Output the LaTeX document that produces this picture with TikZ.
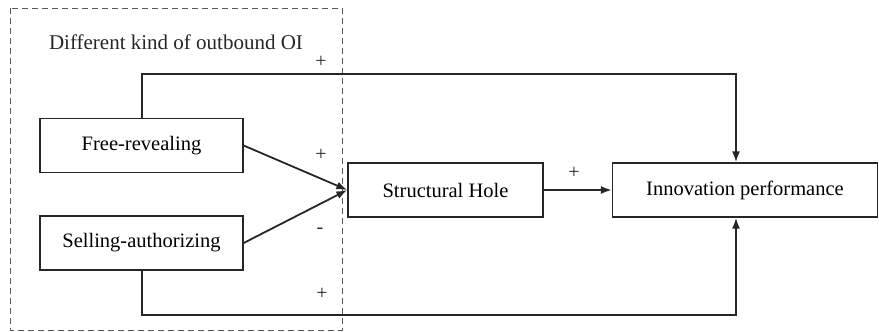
\documentclass[tikz,border=0pt]{standalone}
\usepackage{fontspec}
\setmainfont{Liberation Serif}
\newfontfamily\diagfont{Liberation Serif}
\usetikzlibrary{arrows.meta}
\begin{document}
\begin{tikzpicture}[x=1pt,y=-1pt,
  box/.style={draw=black!85,line width=1.3pt,minimum height=54pt,inner sep=0pt,font=\diagfont\fontsize{20.5}{24}\selectfont},
  conn/.style={line width=1.8pt,draw=black!85,-{Latex[length=11pt,width=8pt]}},
  sign/.style={font=\diagfont\fontsize{20}{24}\selectfont,inner sep=0pt,text=black!85}]
\useasboundingbox (0,0) rectangle (879,332);
\draw[dash pattern=on 6pt off 4pt,black!65,line width=1pt] (10,8) rectangle (342,330);
\node[font=\diagfont\fontsize{21}{24}\selectfont,anchor=center,text=black!85] (title) at (176,42) {Different kind of outbound OI};
\node[box,minimum width=203pt] (fr) at (141.5,145.5) {Free-revealing};
\node[box,minimum width=203pt] (sa) at (141.5,243) {Selling-authorizing};
\node[box,minimum width=195pt] (sh) at (445.5,190) {Structural Hole};
\node[box,minimum width=265pt] (ip) at (745,190) {Innovation performance};
\coordinate (tl) at (142,74);
\coordinate (tr) at (736,74);
\coordinate (bl) at (142,315);
\coordinate (br) at (736,315);
\draw[conn] (fr.north -| tl) -- (tl) -- (tr) -- (tr |- ip.north);
\draw[conn] (sa.south -| bl) -- (bl) -- (br) -- (br |- ip.south);
\draw[conn] (fr.east) -- (sh.west);
\draw[conn] (sa.east) -- (sh.west);
\draw[conn] (sh.east) -- (ip.west);
\node[sign] (s1) at (321,62) {+};
\node[sign] (s2) at (321,155) {+};
\node[sign] (s3) at (320,231) {-};
\node[sign] (s4) at (322,294) {+};
\node[sign] (s5) at (574,173) {+};
\end{tikzpicture}
\end{document}
